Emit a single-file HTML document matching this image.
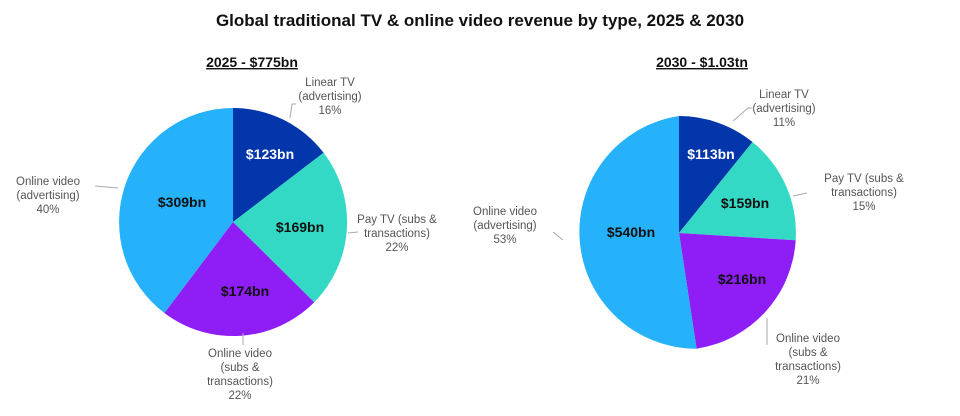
<!DOCTYPE html>
<html><head><meta charset="utf-8"><style>
body{margin:0;background:#fff;}
svg text{font-family:"Liberation Sans",sans-serif;}
</style></head><body>
<svg width="960" height="411" viewBox="0 0 960 411" xmlns="http://www.w3.org/2000/svg">
<text x="480" y="26" text-anchor="middle" font-size="17" font-weight="bold" fill="#111">Global traditional TV &amp; online video revenue by type, 2025 &amp; 2030</text>
<text x="252" y="67" text-anchor="middle" font-size="14" font-weight="bold" fill="#111" text-decoration="underline">2025 - $775bn</text>
<text x="702" y="67" text-anchor="middle" font-size="14" font-weight="bold" fill="#111" text-decoration="underline">2030 - $1.03tn</text>
<!-- Pie 1 center 233,222 r 114 -->
<g>
<path d="M233,222 L233,108 A114,114 0 0,1 323.6,152.8 Z" fill="#0336ab"/>
<path d="M233,222 L323.6,152.8 A114,114 0 0,1 314.2,302.2 Z" fill="#33d9c5"/>
<path d="M233,222 L314.2,302.2 A114,114 0 0,1 164.4,313.0 Z" fill="#8f1df5"/>
<path d="M233,222 L164.4,313.0 A114,114 0 0,1 233,108 Z" fill="#26b1fb"/>
</g>
<g font-size="14" font-weight="bold" text-anchor="middle">
<text x="270" y="159" fill="#fff">$123bn</text>
<text x="300" y="232" fill="#111">$169bn</text>
<text x="245" y="296" fill="#111">$174bn</text>
<text x="182" y="207" fill="#111">$309bn</text>
</g>
<g stroke="#aaa" stroke-width="1" fill="none">
<polyline points="290,118 292,104 296,104"/>
<polyline points="348,233 358,232"/>
<polyline points="243,333 243,345"/>
<polyline points="95,186 118,188"/>
</g>
<g font-size="11.5" fill="#555" text-anchor="middle">
<text x="330" y="86">Linear TV</text><text x="330" y="100">(advertising)</text><text x="330" y="114">16%</text>
<text x="397" y="223">Pay TV (subs &amp;</text><text x="397" y="237">transactions)</text><text x="397" y="251">22%</text>
<text x="240" y="357">Online video</text><text x="240" y="371">(subs &amp;</text><text x="240" y="385">transactions)</text><text x="240" y="399">22%</text>
<text x="48" y="185">Online video</text><text x="48" y="199">(advertising)</text><text x="48" y="213">40%</text>
</g>
<!-- Pie 2 center 679,233 r 117 -->
<g>
<path d="M679,233 L679,116 A117,117 0 0,1 752.5,142.0 Z" fill="#0336ab"/>
<path d="M679,233 L752.5,142.0 A117,117 0 0,1 795.7,240.3 Z" fill="#33d9c5"/>
<path d="M679,233 L795.7,240.3 A117,117 0 0,1 696.6,348.7 Z" fill="#8f1df5"/>
<path d="M679,233 L696.6,348.7 A117,117 0 0,1 679,116 Z" fill="#26b1fb"/>
</g>
<g font-size="14" font-weight="bold" text-anchor="middle">
<text x="711" y="159" fill="#fff">$113bn</text>
<text x="745" y="208" fill="#111">$159bn</text>
<text x="742" y="284" fill="#111">$216bn</text>
<text x="631" y="237" fill="#111">$540bn</text>
</g>
<g stroke="#aaa" stroke-width="1" fill="none">
<polyline points="733,121 748,108 752,108"/>
<polyline points="793,196 807,193"/>
<polyline points="767,318 767,345"/>
<polyline points="553,232 563,240"/>
</g>
<g font-size="11.5" fill="#555" text-anchor="middle">
<text x="784" y="98">Linear TV</text><text x="784" y="112">(advertising)</text><text x="784" y="126">11%</text>
<text x="864" y="182">Pay TV (subs &amp;</text><text x="864" y="196">transactions)</text><text x="864" y="210">15%</text>
<text x="808" y="342">Online video</text><text x="808" y="356">(subs &amp;</text><text x="808" y="370">transactions)</text><text x="808" y="384">21%</text>
<text x="505" y="215">Online video</text><text x="505" y="229">(advertising)</text><text x="505" y="243">53%</text>
</g>
</svg>
</body></html>
